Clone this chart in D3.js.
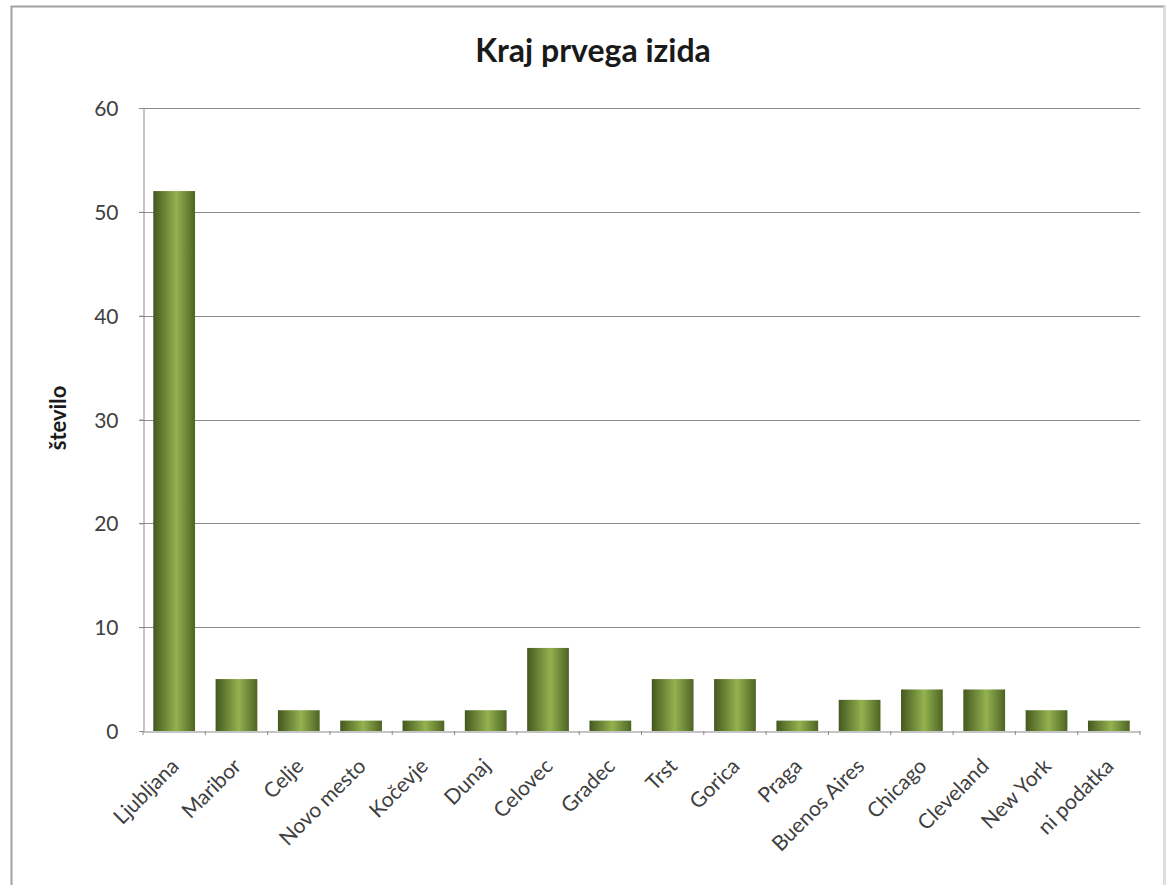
<!DOCTYPE html>
<html><head><meta charset="utf-8">
<script src="https://cdn.jsdelivr.net/npm/d3@7"></script>
<style>
body{margin:0;background:#fff;}
svg{display:block;font-family:Lato,"Open Sans",sans-serif;}
svg text{font-family:Lato,"Open Sans",sans-serif;}
</style></head>
<body>
<svg id="c" width="1175" height="885"></svg>
<script>
const categories = ["Ljubljana","Maribor","Celje","Novo mesto","Kočevje","Dunaj","Celovec","Gradec","Trst","Gorica","Praga","Buenos Aires","Chicago","Cleveland","New York","ni podatka"];
const values = [52,5,2,1,1,2,8,1,5,5,1,3,4,4,2,1];
const yTicks = [0,10,20,30,40,50,60];
const title = "Kraj prvega izida";
const yTitle = "število";

const svg = d3.select("#c");
const m = {left:143, right:1140, top:108, bottom:731};

svg.append("path").attr("d","M11.5,900V6.5H1164.5V900")
  .attr("fill","none").attr("stroke","#a0a0a0").attr("stroke-width",2);
svg.append("line").attr("x1",1164.5).attr("x2",1164.5).attr("y1",6).attr("y2",900)
  .attr("stroke","#e4e4e4").attr("stroke-width",2);

const defs = svg.append("defs");
const g = defs.append("linearGradient").attr("id","bar").attr("x1","0").attr("x2","1").attr("y1","0").attr("y2","0");
g.append("stop").attr("offset","0%").attr("stop-color","#44581e");
g.append("stop").attr("offset","55%").attr("stop-color","#93b24f");
g.append("stop").attr("offset","100%").attr("stop-color","#4e6424");

const x = d3.scaleBand().domain(categories).range([m.left,m.right]).paddingInner(0.33).paddingOuter(0.165);
const y = d3.scaleLinear().domain([0,60]).range([m.bottom,m.top]);

// gridlines
svg.append("g").selectAll("line").data(yTicks.filter(t=>t>0)).join("line")
  .attr("x1",m.left-4).attr("x2",m.right).attr("y1",d=>Math.round(y(d))+0.5).attr("y2",d=>Math.round(y(d))+0.5)
  .attr("stroke","#8a8a8a").attr("stroke-width",1);

// y axis
const ya = svg.append("g").attr("transform",`translate(${m.left+0.5},0)`)
  .call(d3.axisLeft(y).tickValues(yTicks).tickSize(4).tickPadding(21));
ya.attr("font-family",null).attr("font-size",null);
ya.select(".domain").attr("stroke","#8a8a8a");
ya.selectAll(".tick line").attr("stroke","#8a8a8a");
ya.selectAll("text").attr("font-size",21).attr("fill","#404040").attr("dy","0.36em");

// bars
svg.append("g").selectAll("rect").data(values).join("rect")
  .attr("x",(d,i)=>x(categories[i])).attr("width",x.bandwidth())
  .attr("y",d=>y(d)).attr("height",d=>y(0)-y(d))
  .attr("fill","url(#bar)");

// x axis
const xa = svg.append("g").attr("transform",`translate(0,${m.bottom+0.5})`)
  .call(d3.axisBottom(x).tickSize(0));
xa.attr("font-family",null).attr("font-size",null);
xa.select(".domain").attr("stroke","#8a8a8a");
xa.selectAll("text").attr("font-size",21).attr("fill","#404040")
  .attr("text-anchor","end").attr("x",0).attr("y",0).attr("dy",null)
  .attr("transform","translate(6,36) rotate(-45)");
// category separator ticks
svg.append("g").selectAll("line").data(d3.range(categories.length+1)).join("line")
  .attr("x1",i=>m.left+i*x.step()).attr("x2",i=>m.left+i*x.step())
  .attr("y1",m.bottom).attr("y2",m.bottom+4).attr("stroke","#8a8a8a");

svg.append("text").attr("x",593).attr("y",62).attr("text-anchor","middle")
  .attr("font-size",32).attr("font-weight","bold").attr("fill","#1a1a1a").text(title);

svg.append("text").attr("transform","translate(66,418) rotate(-90)").attr("text-anchor","middle")
  .attr("font-size",22).attr("font-weight","bold").attr("fill","#1a1a1a").text(yTitle);
</script>
</body></html>
